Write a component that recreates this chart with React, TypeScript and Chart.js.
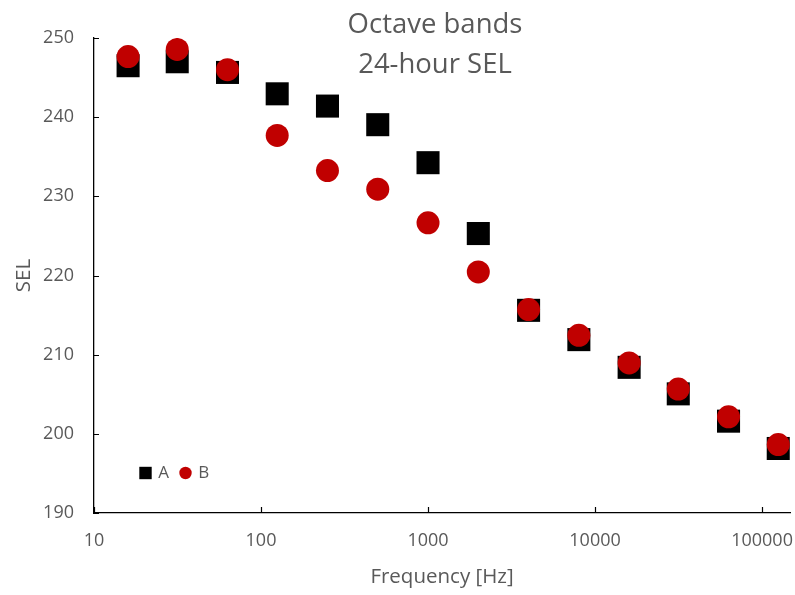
import React, { useEffect, useRef } from "react";
import { Chart, registerables } from "chart.js";

Chart.register(...registerables);

// Octave band centre frequencies [Hz]
const frequencies = [16, 31.5, 63, 125, 250, 500, 1000, 2000, 4000, 8000, 16000, 31500, 63000, 125000];
// 24-hour SEL per band
const seriesA = [246.5, 247.0, 245.65, 242.95, 241.4, 239.05, 234.25, 225.3, 215.6, 211.9, 208.4, 205.05, 201.6, 198.15];
const seriesB = [247.65, 248.55, 246.0, 237.7, 233.25, 230.9, 226.65, 220.45, 215.7, 212.45, 208.95, 205.65, 202.15, 198.65];
const seriesLabels = ["A", "B"];
const xTickValues = [10, 100, 1000, 10000, 100000];
const yTickValues = [190, 200, 210, 220, 230, 240, 250];
const titleLines = ["Octave bands", "24-hour SEL"];
const xAxisTitle = "Frequency [Hz]";
const yAxisTitle = "SEL";

const FONT = "'Open Sans', sans-serif";
const TEXT_COLOR = "#595959";
const COLOR_A = "#000000";
const COLOR_B = "#C00000";

// Two-line chart title
const titlePlugin = {
  id: "twoLineTitle",
  afterDraw(chart: any) {
    const ctx = chart.ctx;
    ctx.save();
    ctx.fillStyle = TEXT_COLOR;
    ctx.font = `27.5px ${FONT}`;
    ctx.textAlign = "center";
    ctx.textBaseline = "alphabetic";
    ctx.fillText(titleLines[0], 435, 33);
    ctx.fillText(titleLines[1], 435, 73);
    ctx.restore();
  },
};

// Short tick marks pointing into the plot area
const innerTicksPlugin = {
  id: "innerTicks",
  beforeDatasetsDraw(chart: any) {
    const ctx = chart.ctx;
    const { x, y } = chart.scales;
    const area = chart.chartArea;
    ctx.save();
    ctx.strokeStyle = "#000";
    ctx.lineWidth = 1.2;
    ctx.beginPath();
    for (const t of y.ticks) {
      const py = Math.round(y.getPixelForValue(t.value)) + 0.5;
      ctx.moveTo(area.left, py);
      ctx.lineTo(area.left + 5, py);
    }
    for (const t of x.ticks) {
      const px = Math.round(x.getPixelForValue(t.value)) + 0.5;
      ctx.moveTo(px, area.bottom);
      ctx.lineTo(px, area.bottom - 6);
    }
    ctx.stroke();
    ctx.restore();
  },
};

// Compact legend inside the lower-left of the plot
const insideLegendPlugin = {
  id: "insideLegend",
  afterDraw(chart: any) {
    const ctx = chart.ctx;
    const cy = 473;
    const size = 12.4;
    ctx.save();
    ctx.font = `17px ${FONT}`;
    ctx.textBaseline = "middle";
    ctx.textAlign = "left";
    chart.data.datasets.forEach((ds: any, i: number) => {
      const left = 139.3 + 40 * i;
      ctx.fillStyle = ds.backgroundColor;
      if (ds.pointStyle === "rect") {
        ctx.fillRect(left, cy - size / 2, size, size);
      } else {
        ctx.beginPath();
        ctx.arc(left + size / 2, cy, size / 2, 0, Math.PI * 2);
        ctx.fill();
      }
      ctx.fillStyle = TEXT_COLOR;
      ctx.fillText(ds.label, left + 19, cy + 0.5);
    });
    ctx.restore();
  },
};

export default function App() {
  const canvasRef = useRef<HTMLCanvasElement | null>(null);

  useEffect(() => {
    if (!canvasRef.current) return;
    const pointsA = frequencies.map((f, i) => ({ x: f, y: seriesA[i] }));
    const pointsB = frequencies.map((f, i) => ({ x: f, y: seriesB[i] }));

    const chart = new Chart(canvasRef.current, {
      type: "scatter",
      data: {
        datasets: [
          {
            label: seriesLabels[0],
            data: pointsA,
            pointStyle: "rect",
            pointRadius: 16.3,
            pointHoverRadius: 16.3,
            backgroundColor: COLOR_A,
            borderColor: COLOR_A,
            borderWidth: 0,
            showLine: false,
            order: 1,
          },
          {
            label: seriesLabels[1],
            data: pointsB,
            pointStyle: "circle",
            pointRadius: 11.5,
            pointHoverRadius: 11.5,
            backgroundColor: COLOR_B,
            borderColor: COLOR_B,
            borderWidth: 0,
            showLine: false,
            order: 0,
          },
        ],
      },
      options: {
        responsive: false,
        animation: false,
        devicePixelRatio: 1,
        layout: { autoPadding: false, padding: { top: 38, right: 5, left: 0, bottom: 0 } },
        plugins: {
          legend: { display: false },
          tooltip: { enabled: false },
          title: { display: false },
        },
        scales: {
          x: {
            type: "logarithmic",
            min: 10,
            max: 147000,
            afterBuildTicks: (scale: any) => {
              scale.ticks = xTickValues.map((v) => ({ value: v }));
            },
            afterFit: (scale: any) => {
              scale.height = 82;
              scale.paddingLeft = 0;
              scale.paddingRight = 0;
            },
            grid: { display: false, drawTicks: false },
            border: { display: true, color: "#000", width: 1.3 },
            ticks: {
              autoSkip: false,
              maxRotation: 0,
              padding: 17,
              color: TEXT_COLOR,
              font: { family: FONT, size: 18 },
              callback: (v: any) => String(v),
            },
            title: {
              display: true,
              text: xAxisTitle,
              color: TEXT_COLOR,
              font: { family: FONT, size: 20.5 },
              padding: { top: 0, bottom: 5.7 },
            },
          },
          y: {
            type: "linear",
            min: 190,
            max: 250,
            afterBuildTicks: (scale: any) => {
              scale.ticks = yTickValues.map((v) => ({ value: v }));
            },
            afterFit: (scale: any) => {
              scale.width = 94;
              scale.paddingTop = 0;
              scale.paddingBottom = 0;
            },
            grid: { display: false, drawTicks: false },
            border: { display: true, color: "#000", width: 1.3 },
            ticks: {
              padding: 20,
              color: TEXT_COLOR,
              font: { family: FONT, size: 18 },
              callback: (v: any) => String(v),
            },
            title: {
              display: true,
              text: yAxisTitle,
              color: TEXT_COLOR,
              font: { family: FONT, size: 20.5 },
              padding: { top: 12.2, bottom: 0 },
            },
          },
        },
      },
      plugins: [titlePlugin, innerTicksPlugin, insideLegendPlugin],
    } as any);

    return () => chart.destroy();
  }, []);

  return (
    <div style={{ position: "absolute", left: 0, top: 0, width: 795, height: 595, background: "#fff" }}>
      <canvas ref={canvasRef} width={795} height={595} style={{ display: "block" }} />
    </div>
  );
}
